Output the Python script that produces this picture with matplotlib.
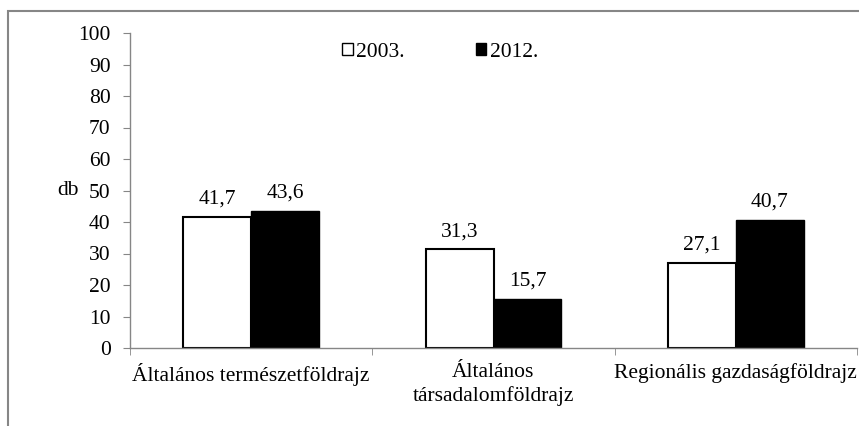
import matplotlib
matplotlib.use("Agg")
import matplotlib.pyplot as plt
from matplotlib.patches import Patch, Rectangle
import numpy as np

categories = ["Általános természetföldrajz", "Általános\ntársadalomföldrajz", "Regionális gazdaságföldrajz"]
series_names = ["2003.", "2012."]
values_2003 = [41.7, 31.3, 27.1]
values_2012 = [43.6, 15.7, 40.7]
yticks = [0, 10, 20, 30, 40, 50, 60, 70, 80, 90, 100]

plt.rcParams["font.family"] = ["Liberation Serif", "DejaVu Serif"]
FS = 15.5
W, H = 859, 426
fig = plt.figure(figsize=(W / 100, H / 100), dpi=100)

# outer chart frame (only top and left edges fall inside the canvas)
fig.add_artist(Rectangle((8 / W, -0.1), 1.1, (H - 11) / H + 0.1, transform=fig.transFigure,
                         fill=False, edgecolor="#868686", linewidth=1.5))

ax = fig.add_axes([130 / W, (H - 348) / H, (857 - 130) / W, (348 - 33) / H])
x = np.arange(len(categories))
bw = 0.28
b1 = ax.bar(x - bw / 2, values_2003, bw, color="white", edgecolor="black", linewidth=1.5)
b2 = ax.bar(x + bw / 2, values_2012, bw, color="black", edgecolor="black", linewidth=1.0)

for bars, vals in ((b1, values_2003), (b2, values_2012)):
    for rect, v in zip(bars, vals):
        ax.text(rect.get_x() + rect.get_width() / 2, v + 2.5, f"{v:.1f}".replace(".", ","),
                ha="center", va="bottom", fontsize=FS)

ax.set_xlim(-0.5, len(categories) - 0.5)
ax.set_ylim(0, 100)
ax.set_yticks(yticks)
ax.set_yticklabels([str(t) for t in yticks], fontsize=FS)
ax.set_xticks(x)
ax.set_xticklabels(categories, fontsize=FS, linespacing=1.25)
ax.set_xticks(np.arange(-0.5, len(categories)), minor=True)
ax.tick_params(axis="x", which="major", length=0, pad=11)
ax.tick_params(axis="x", which="minor", length=5, color="#868686", direction="out")
ax.tick_params(axis="y", length=5, color="#868686", direction="out", pad=9)
for s in ("top", "right"):
    ax.spines[s].set_visible(False)
for s in ("left", "bottom"):
    ax.spines[s].set_color("#868686")
    ax.spines[s].set_linewidth(1.0)

ax.set_ylabel("db", rotation=0, fontsize=FS, va="center", ha="center")
ax.yaxis.set_label_coords(-0.085, 0.5)

handles = [Patch(facecolor="white", edgecolor="black", linewidth=1.0),
           Patch(facecolor="black", edgecolor="black")]
ax.legend(handles, series_names, loc="upper left", bbox_to_anchor=(0.265, 1.03), ncol=2,
          frameon=False, fontsize=FS, handlelength=0.5, handleheight=0.5,
          handletextpad=0.15, columnspacing=3.3)

fig.savefig("out.png", dpi=100, facecolor="white")
